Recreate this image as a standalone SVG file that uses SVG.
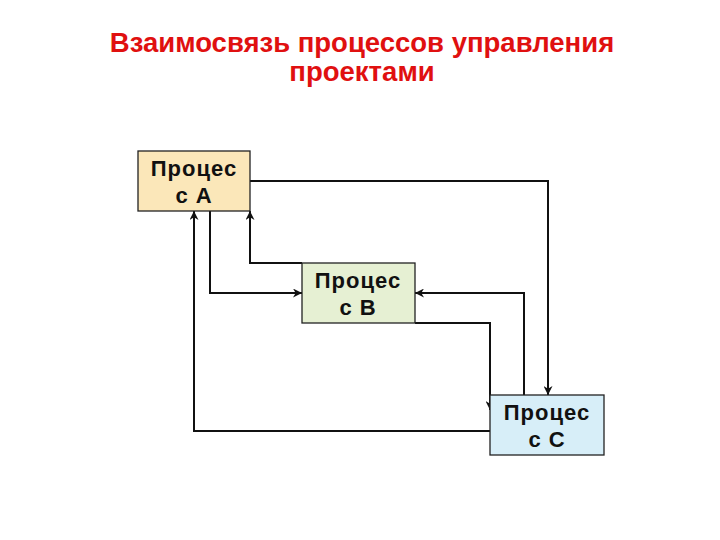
<svg xmlns="http://www.w3.org/2000/svg" width="720" height="540" viewBox="0 0 720 540">
<defs>
<style>
.title{font-family:"Liberation Sans",Arial,sans-serif;font-weight:bold;font-size:27.5px;fill:#e01010;text-anchor:middle}
.lbl{font-family:"Liberation Sans",Arial,sans-serif;font-weight:bold;font-size:22px;letter-spacing:1px;fill:#111;text-anchor:middle}
.box{stroke:#222;stroke-width:1.3}
.conn{fill:none;stroke:#111;stroke-width:2;marker-end:url(#arr)}
</style>
<marker id="arr" viewBox="0 0 10 10" refX="10" refY="5" markerWidth="11" markerHeight="9" markerUnits="userSpaceOnUse" orient="auto">
<path d="M0,0 L10,5 L0,10 L3,5 Z" fill="#111"/>
</marker>
</defs>
<rect width="720" height="540" fill="#fff"/>
<g id="title">
<text class="title" x="362" y="52">Взаимосвязь процессов управления</text>
<text class="title" x="362" y="81">проектами</text>
</g>
<g id="connectors">
<path class="conn" d="M250,181 H548 V395"/>
<path class="conn" d="M210,211 V293 H302"/>
<path class="conn" d="M302,263 H250 V211"/>
<path class="conn" d="M524,395 V293 H415"/>
<path class="conn" d="M415,323 H490 V410"/>
<path class="conn" d="M490,431 H194 V211"/>
</g>
<g id="nodeA">
<rect class="box" x="138" y="151" width="112" height="60" fill="#fbe7b9"/>
<text class="lbl" x="194" y="176">Процес</text>
<text class="lbl" x="194" y="203">с А</text>
</g>
<g id="nodeB">
<rect class="box" x="302" y="263" width="113" height="60" fill="#e6f0d3"/>
<text class="lbl" x="358" y="288">Процес</text>
<text class="lbl" x="358" y="315">с В</text>
</g>
<g id="nodeC">
<rect class="box" x="490" y="395" width="114" height="60" fill="#d7eef8"/>
<text class="lbl" x="547" y="420">Процес</text>
<text class="lbl" x="547" y="447">с С</text>
</g>
</svg>
